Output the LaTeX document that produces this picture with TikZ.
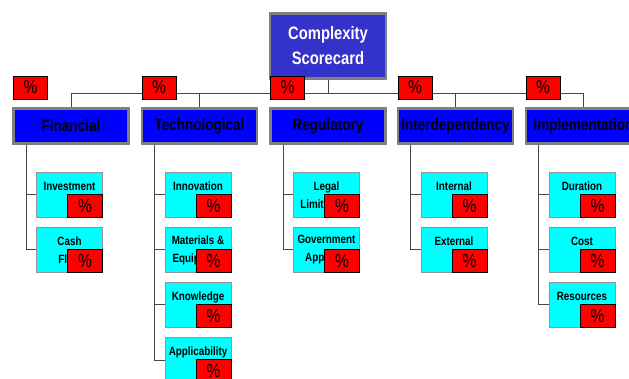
\documentclass[tikz,border=0pt]{standalone}
\usepackage{fontspec}
\newfontfamily\narrowfont[FakeStretch=0.82]{Liberation Sans}
\usetikzlibrary{calc}

\definecolor{topblue}{RGB}{51,51,204}
\definecolor{catblue}{RGB}{0,0,255}
\definecolor{itemcyan}{RGB}{0,255,255}
\definecolor{boxgray}{RGB}{128,128,128}
\definecolor{itemgray}{RGB}{150,150,150}
\definecolor{linegray}{RGB}{70,70,70}

\begin{document}
\begin{tikzpicture}[x=1pt, y=-1pt,
    every node/.style={inner sep=0pt},
    topbox/.style={draw=boxgray, line width=2.5pt, fill=topblue, text=white, align=center,
        minimum width=116pt, minimum height=65pt, font=\narrowfont\bfseries\fontsize{18}{25}\selectfont},
    catbox/.style={draw=boxgray, line width=2.5pt, fill=catblue, minimum width=115pt, minimum height=35pt,
        font=\narrowfont\bfseries\fontsize{16.5}{20}\selectfont},
    itembox/.style={draw=itemgray, line width=0.8pt, fill=itemcyan, align=center,
        minimum width=66pt, minimum height=45pt, font=\narrowfont\bfseries\fontsize{12}{18}\selectfont},
    pctbox/.style={draw=black, line width=0.7pt, fill=red, minimum width=34pt, minimum height=23pt,
        font=\narrowfont\fontsize{19}{20}\selectfont},
    conn/.style={draw=linegray, line width=1pt}]
    \useasboundingbox (0,0) rectangle (629,379);
    \clip (0,0) rectangle (629,379);

    % topo
    \node[topbox] (score) at (328,46) {Complexity\\Scorecard};

    % categorias
    \foreach \name/\txt/\x in {fin/Financial/71, tech/Technological/199.5, reg/Regulatory/328,
        dep/Interdependency/455.5, impl/Implementation/583.5}
        \node[catbox] (\name) at (\x,126) {\txt};

    % barra horizontal
    \coordinate (bus) at (328,94);
    \draw[conn] (score.south) -- (bus);
    \draw[conn] (fin.north) -- (fin.north |- bus) -- (impl.north |- bus) -- (impl.north);
    \foreach \name in {tech,dep}
        \draw[conn] (\name.north) -- (\name.north |- bus);

    % pesos das categorias
    \foreach \name in {fin,tech,reg,dep,impl}
        \node[pctbox, anchor=south west] (\name-pct) at ($(\name.north west)+(1,-8)$) {\%};

    % itens de cada categoria
    \foreach \name/\items in {fin/{Investment\\\phantom{X},Cash\\Flow},
        tech/{Innovation\\\phantom{X},Materials \&\\Equipment,Knowledge\\\phantom{X},Applicability\\\phantom{X}},
        reg/{Legal\\Limitations,Government\\Approval},
        dep/{Internal\\\phantom{X},External\\\phantom{X}},
        impl/{Duration\\\phantom{X},Cost\\\phantom{X},Resources\\\phantom{X}}} {
        \coordinate (\name-spine) at ($(\name.south west)+(14,0)$);
        \foreach \txt [count=\j] in \items {
            \node[itembox] (\name-\j) at ($(\name.center)+(-1.5,{69+55*(\j-1)})$) {\txt};
            \draw[conn] (\name-spine) |- (\name-\j.west);
            \node[pctbox, minimum width=35pt, anchor=south east] (\name-\j-pct) at (\name-\j.south east) {\%};
        }
    }
\end{tikzpicture}
\end{document}
